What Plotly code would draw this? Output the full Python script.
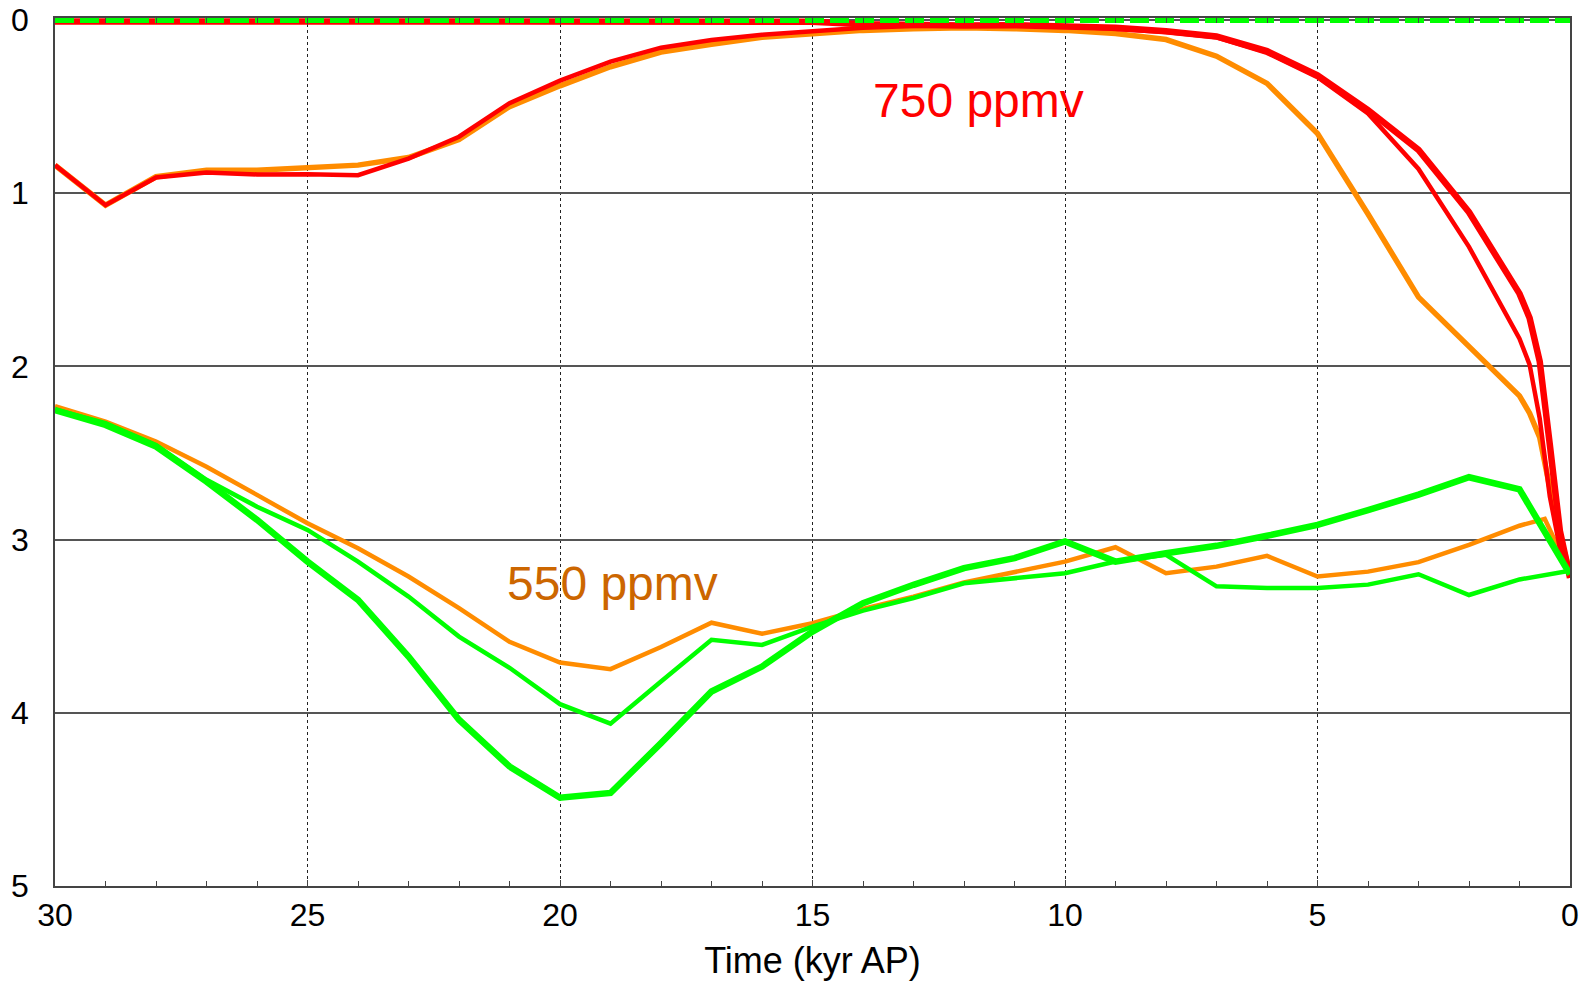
import plotly.graph_objects as go

# Time axis (kyr AP); finer steps near the present for the upper curves
t_upper = [30, 29, 28, 27, 26, 25, 24, 23, 22, 21, 20, 19, 18, 17, 16, 15, 14, 13, 12, 11,
           10, 9, 8, 7, 6, 5, 4, 3, 2, 1, 0.8, 0.6, 0.4, 0.2, 0]
t_lower = [30, 29, 28, 27, 26, 25, 24, 23, 22, 21, 20, 19, 18, 17, 16, 15, 14, 13, 12, 11,
           10, 9, 8, 7, 6, 5, 4, 3, 2, 1, 0]
t_orange_lower = [30, 29, 28, 27, 26, 25, 24, 23, 22, 21, 20, 19, 18, 17, 16, 15, 14, 13, 12, 11,
                  10, 9, 8, 7, 6, 5, 4, 3, 2, 1, 0.5, 0]
t_zero = [30, 0]

# 750 ppmv runs
red_thick = [0.008, 0.008, 0.008, 0.008, 0.008, 0.008, 0.008, 0.008, 0.008, 0.008, 0.008, 0.008,
             0.008, 0.008, 0.008, 0.01, 0.025, 0.032, 0.032, 0.03, 0.035, 0.045, 0.065, 0.095,
             0.18, 0.32, 0.52, 0.75, 1.11, 1.58, 1.72, 1.97, 2.45, 2.95, 3.22]
red_thin = [0.838, 1.069, 0.909, 0.88, 0.892, 0.89, 0.896, 0.80, 0.674, 0.48, 0.35, 0.24, 0.16,
            0.115, 0.085, 0.065, 0.045, 0.035, 0.03, 0.028, 0.035, 0.05, 0.07, 0.1, 0.19, 0.33,
            0.54, 0.86, 1.31, 1.84, 1.99, 2.3, 2.75, 3.05, 3.22]
orange_upper = [0.838, 1.069, 0.905, 0.867, 0.867, 0.851, 0.838, 0.794, 0.69, 0.50, 0.38, 0.27,
                0.185, 0.14, 0.10, 0.08, 0.06, 0.05, 0.045, 0.05, 0.06, 0.078, 0.113, 0.209,
                0.366, 0.655, 1.12, 1.60, 1.89, 2.17, 2.27, 2.41, 2.7, 2.98, 3.19]

# 550 ppmv runs
orange_lower = [2.229, 2.319, 2.434, 2.579, 2.742, 2.906, 3.05, 3.213, 3.396, 3.59, 3.71, 3.748,
                3.62, 3.48, 3.544, 3.483, 3.40, 3.329, 3.248, 3.19, 3.127, 3.044, 3.194, 3.156,
                3.094, 3.213, 3.185, 3.13, 3.03, 2.92, 2.88, 3.19]
green_thin = [2.248, 2.328, 2.454, 2.655, 2.81, 2.944, 3.127, 3.329, 3.56, 3.74, 3.95, 4.063,
              3.819, 3.579, 3.608, 3.502, 3.41, 3.337, 3.252, 3.223, 3.194, 3.127, 3.088, 3.27,
              3.28, 3.28, 3.26, 3.2, 3.32, 3.23, 3.18]
green_thick = [2.252, 2.338, 2.463, 2.665, 2.886, 3.127, 3.348, 3.675, 4.04, 4.31, 4.49, 4.463,
               4.175, 3.877, 3.733, 3.531, 3.367, 3.261, 3.165, 3.107, 3.011, 3.127, 3.079, 3.036,
               2.978, 2.915, 2.83, 2.74, 2.64, 2.71, 3.2]
zero_line = [0, 0]

x_ticks = [30, 25, 20, 15, 10, 5, 0]
y_ticks = [0, 1, 2, 3, 4, 5]

RED = "#ff0000"
ORANGE = "#ff8c00"
GREEN = "#00ff00"
FONT = "Liberation Sans, Arial, sans-serif"

fig = go.Figure()


def add_line(x, y, color, width, dash="solid"):
    fig.add_trace(go.Scatter(x=x, y=y, mode="lines", showlegend=False, hoverinfo="skip",
                             line=dict(color=color, width=width, dash=dash)))


add_line(t_orange_lower, orange_lower, ORANGE, 4.5)
add_line(t_upper, orange_upper, ORANGE, 5.5)
add_line(t_upper, red_thick, RED, 6.5)
add_line(t_upper, red_thin, RED, 4.5)
add_line(t_lower, green_thin, GREEN, 4.5)
add_line(t_lower, green_thick, GREEN, 6.5)
add_line(t_zero, zero_line, GREEN, 6, dash="19px,6px")

fig.add_annotation(x=13.84, y=0.466, text="750 ppmv", showarrow=False,
                   xanchor="left", yanchor="middle",
                   font=dict(family=FONT, size=48, color=RED))
fig.add_annotation(x=21.08, y=3.255, text="550 ppmv", showarrow=False,
                   xanchor="left", yanchor="middle",
                   font=dict(family=FONT, size=48, color="#cc6600"))

fig.update_layout(
    width=1585, height=985,
    margin=dict(l=55, r=15, t=18, b=99, autoexpand=False),
    paper_bgcolor="white", plot_bgcolor="white",
    font=dict(family=FONT, color="black"),
    xaxis=dict(
        range=[30, 0], tickvals=x_ticks, ticktext=[str(v) for v in x_ticks],
        automargin=False,
        ticks="inside", ticklen=6, tickwidth=1.2, tickcolor="#444",
        minor=dict(dtick=1, ticks="inside", ticklen=5, tickwidth=1.2, tickcolor="#444",
                   showgrid=False),
        showline=True, linecolor="#444", linewidth=1.5, mirror="ticks",
        showgrid=True, gridcolor="#222", gridwidth=1, griddash="dot",
        zeroline=False,
        tickfont=dict(family=FONT, size=32, color="black"),
        title=dict(text="Time (kyr AP)", standoff=16,
                   font=dict(family=FONT, size=36, color="black")),
    ),
    yaxis=dict(
        range=[5, -0.0115], tickvals=y_ticks, ticks="",
        automargin=False,
        showline=True, linecolor="#444", linewidth=1.5, mirror=True,
        showgrid=True, gridcolor="#555", gridwidth=1.5, zeroline=False,
        tickfont=dict(family=FONT, size=32, color="black"),
        ticklabelstandoff=18,
    ),
)

fig.write_html("out.html")
